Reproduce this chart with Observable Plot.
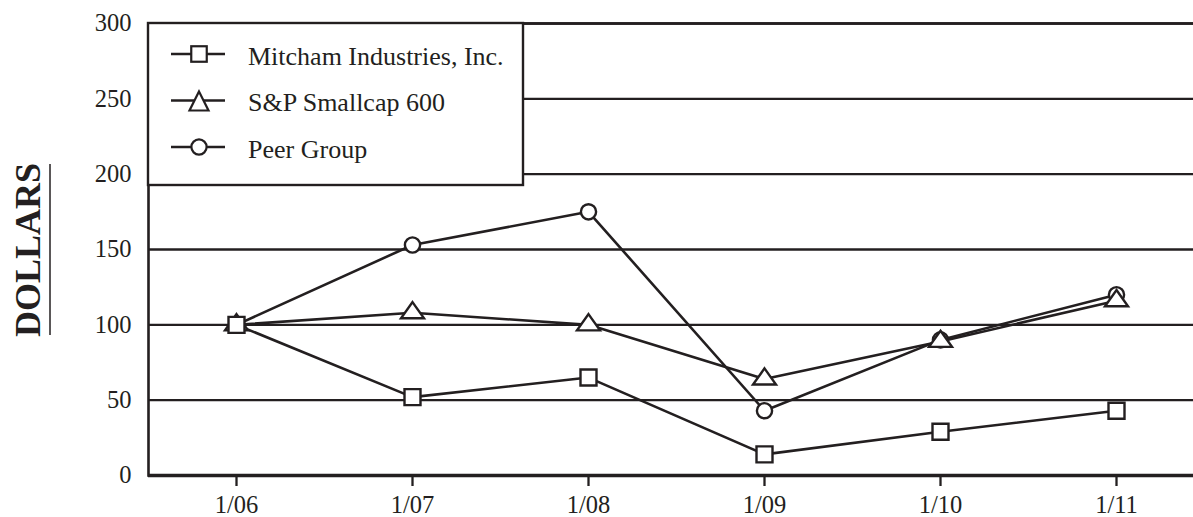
<!DOCTYPE html>
<html>
<head>
<meta charset="utf-8">
<script src="https://cdn.jsdelivr.net/npm/d3@7"></script>
<script src="https://cdn.jsdelivr.net/npm/@observablehq/plot@0.6"></script>
<style>
  html, body { margin: 0; padding: 0; background: #fff; overflow: hidden; }
  #wrap { position: relative; width: 1193px; height: 517px; }
  #overlay { position: absolute; left: 0; top: 0; pointer-events: none; }
</style>
</head>
<body>
<div id="wrap"></div>
<script>
// ---- data ----
const dates = ["1/06", "1/07", "1/08", "1/09", "1/10", "1/11"];
const mitcham = [100, 52, 65, 14, 29, 43];
const smallcap600 = [100, 108, 100, 64, 89, 116];
const peerGroup = [100, 153, 175, 43, 90, 120];
const yTicks = [0, 50, 100, 150, 200, 250, 300];
const seriesNames = ["Mitcham Industries, Inc.", "S&P Smallcap 600", "Peer Group"];
const yTitle = "DOLLARS";

const ink = "#231f20";
const font = "'Liberation Serif', 'Times New Roman', serif";

const rows = [];
[mitcham, smallcap600, peerGroup].forEach((vals, s) => {
  vals.forEach((v, i) => rows.push({series: seriesNames[s], date: dates[i], value: v}));
});
const bySeries = name => rows.filter(d => d.series === name);

// custom marker shapes
const squareSym = { draw(ctx) { const h = 8; ctx.moveTo(-h, -h); ctx.lineTo(h, -h); ctx.lineTo(h, h); ctx.lineTo(-h, h); ctx.closePath(); } };
const triSym = { draw(ctx) { ctx.moveTo(0, -10.7); ctx.lineTo(11.5, 5.5); ctx.lineTo(-11.5, 5.5); ctx.closePath(); } };
const circSym = { draw(ctx) { const r = 7.6; ctx.moveTo(r, 0); ctx.arc(0, 0, r, 0, 2 * Math.PI); ctx.closePath(); } };

const chart = Plot.plot({
  width: 1193,
  height: 517,
  marginLeft: 148,
  marginRight: -11,
  marginTop: 23,
  marginBottom: 42,
  style: { fontFamily: font, color: ink, background: "white", overflow: "hidden" },
  x: { type: "point", domain: dates, padding: 0.5, label: null },
  y: { domain: [0, 300], label: null },
  marks: [
    Plot.ruleY(yTicks.filter(d => d > 0), { stroke: ink, strokeWidth: 2.3 }),
    Plot.frame({ stroke: ink, strokeWidth: 2.6 }),
    Plot.ruleY([0], { stroke: ink, strokeWidth: 3.3 }),
    Plot.axisX({ tickSize: 11, tickPadding: 9, strokeWidth: 2.3, stroke: ink, fill: ink, fontSize: 24.5, label: null }),
    Plot.axisY({ ticks: yTicks, tickSize: 0, tickPadding: 17, fill: ink, fontSize: 24.5, label: null }),
    Plot.line(rows, { x: "date", y: "value", z: "series", stroke: ink, strokeWidth: 2.6 }),
    Plot.dot(bySeries(seriesNames[2]), { x: "date", y: "value", symbol: circSym, fill: "white", stroke: ink, strokeWidth: 2.4 }),
    Plot.dot(bySeries(seriesNames[1]), { x: "date", y: "value", symbol: triSym, fill: "white", stroke: ink, strokeWidth: 2.4 }),
    Plot.dot(bySeries(seriesNames[0]), { x: "date", y: "value", symbol: squareSym, fill: "white", stroke: ink, strokeWidth: 2.4 })
  ]
});

const wrap = document.getElementById("wrap");
wrap.appendChild(chart);

// ---- overlay: legend box and y title ----
const ov = d3.select(wrap).append("svg")
  .attr("id", "overlay")
  .attr("width", 1193).attr("height", 517);

// y title
ov.append("text")
  .attr("transform", "translate(40,250) rotate(-90)")
  .attr("text-anchor", "middle")
  .attr("font-family", font)
  .attr("font-weight", "bold")
  .attr("font-size", 36)
  .attr("fill", ink)
  .text(yTitle);
ov.append("line")
  .attr("x1", 50).attr("x2", 50).attr("y1", 164).attr("y2", 335)
  .attr("stroke", ink).attr("stroke-width", 1.5);

// legend
ov.append("rect")
  .attr("x", 148).attr("y", 23).attr("width", 375).attr("height", 162)
  .attr("fill", "white").attr("stroke", ink).attr("stroke-width", 2.4);

const legendY = [54, 100.5, 147];
const legendShapes = [
  g => g.append("rect").attr("x", -7.75).attr("y", -7.75).attr("width", 15.5).attr("height", 15.5),
  g => g.append("path").attr("d", "M0,-9L9.5,10L-9.5,10Z"),
  g => g.append("circle").attr("r", 7.6)
];
seriesNames.forEach((name, i) => {
  const y = legendY[i];
  ov.append("line").attr("x1", 171).attr("x2", 225).attr("y1", y).attr("y2", y)
    .attr("stroke", ink).attr("stroke-width", 2.4);
  const g = ov.append("g").attr("transform", `translate(199,${y})`);
  legendShapes[i](g).attr("fill", "white").attr("stroke", ink).attr("stroke-width", 2.2);
  ov.append("text")
    .attr("x", 248).attr("y", y + 10.5)
    .attr("font-family", font)
    .attr("font-size", 26)
    .attr("fill", ink)
    .text(name);
});
</script>
</body>
</html>
